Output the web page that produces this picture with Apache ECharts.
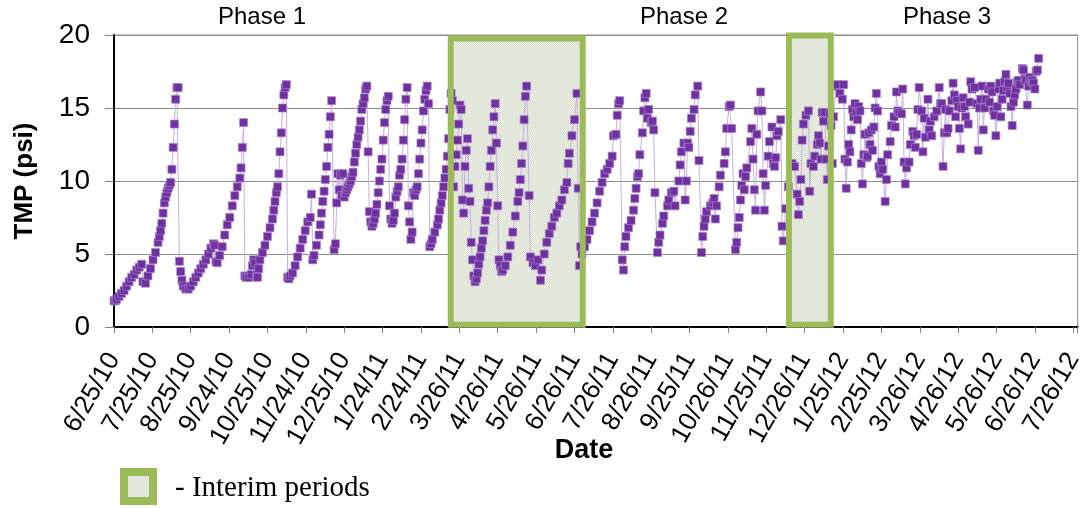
<!DOCTYPE html>
<html>
<head>
<meta charset="utf-8">
<script src="https://cdn.jsdelivr.net/npm/echarts@6/dist/echarts.min.js"></script>
<style>html,body{margin:0;padding:0;background:#fff}#c{width:1086px;height:508px}</style>
</head>
<body>
<div id="c"></div>
<script>
// Day offsets counted from 6/25/10, TMP in psi
const phase1 = [[0,1.8],[1,1.8],[2,1.9],[4,2.1],[6,2.3],[8,2.5],[10,2.8],[12,3.1],[14,3.4],[16,3.6],[18,3.9],[20,4.1],[22,4.3],[23,3.1],[25,3.0],[27,3.5],[29,4.0],[31,4.6],[33,5.1],[35,5.8],[36,6.2],[37,6.6],[38,7.1],[39,7.8],[40,8.5],[41,8.9],[42,9.2],[43,9.5],[44,9.7],[45,9.9],[46,10.8],[47,12.3],[48,13.9],[49,15.6],[50,16.4],[51,16.4],
[52,4.5],[53,3.8],[54,3.2],[55,2.8],[57,2.6],[59,2.6],[61,2.8],[63,3.1],[65,3.4],[67,3.7],[69,4.0],[71,4.3],[73,4.6],[75,5.0],[77,5.4],[79,5.7],[80,5.6],[81,4.5],[82,4.4],[84,4.9],[86,5.5],[88,6.3],[90,7.0],[92,7.5],[94,8.3],[96,9.0],[98,9.6],[100,10.2],[101,10.9],[102,12.3],[103,14.0],
[104,3.5],[105,3.4],[107,3.4],[109,3.6],[110,4.2],[111,4.6],[112,4.4],[113,3.5],[114,3.4],[115,4.0],[116,4.6],[118,5.1],[120,5.6],[122,6.2],[124,6.8],[126,7.4],[127,8.0],[128,8.6],[129,9.2],[130,9.6],[131,10.5],[132,12.0],[133,13.3],[134,15.0],[135,15.9],[136,16.4],[137,16.6],
[138,3.4],[139,3.3],[140,3.5],[142,3.7],[144,4.2],[146,4.8],[148,5.4],[150,6.0],[152,6.6],[154,7.2],[156,7.5],[157,9.1],[158,4.6],[159,4.9],[161,5.6],[163,6.3],[164,7.0],[165,7.8],[166,8.6],[167,9.3],[168,10.1],[169,11.0],[170,12.3],[171,13.2],[172,14.4],[173,15.5],
[175,5.3],[176,5.7],[177,8.5],[178,10.5],[179,9.4],[180,10.4],[181,9.0],[182,10.5],[183,8.9],[184,9.2],[185,9.4],[186,9.6],[187,9.8],[188,10.0],[189,10.3],[190,10.6],[191,11.3],[192,11.9],[193,12.5],[194,13.0],[195,13.5],[196,14.1],[197,14.9],[198,15.3],[199,15.7],[200,16.3],[201,16.5],[202,12.0],
[203,7.9],[204,7.2],[205,6.9],[206,7.1],[207,7.4],[208,7.8],[209,8.4],[210,9.2],[211,10.0],[212,10.8],[213,11.5],[214,12.8],[215,14.0],[216,14.9],[217,15.5],[218,15.8],
[219,8.3],[220,7.4],[221,7.1],[222,7.3],[223,7.8],[224,8.9],[225,9.3],[226,9.6],[227,10.4],[228,10.8],[229,11.5],[230,12.8],[231,14.2],[232,15.6],[233,16.4],
[234,8.3],[235,7.2],[236,6.0],[237,6.5],[238,9.2],[239,9.0],[240,9.4],[241,9.6],[242,10.5],[243,11.5],[244,12.6],[245,13.5],[246,14.8],[247,15.6],[248,16.2],[249,16.5],[250,15.3],
[251,5.5],[252,5.7],[253,6.0],[255,6.5],[257,7.0],[258,7.4],[259,8.0],[260,8.5],[261,9.0],[262,9.6],[263,10.2],[264,10.8],[265,11.7],[266,12.9],[267,14.9]];

const interim1 = [[268,16.0],[269,15.5],[270,9.6],[271,11.0],[272,11.8],[273,12.8],[274,13.9],[275,15.2],[276,14.9],[277,8.7],[278,7.8],[279,11.0],[280,12.1],[281,12.9],[282,9.5],[283,8.6],[284,5.8],[285,4.6],[286,3.5],[287,3.1],[288,3.3],[289,3.7],[290,4.3],[291,4.8],[292,5.4],[293,5.9],[294,6.6],[295,7.3],[296,8.0],[297,8.5],[298,9.6],[299,11.0],[300,12.1],[301,13.5],[302,14.4],[303,15.3],[304,12.6],[305,8.3],[306,4.6],[307,4.2],[308,3.8],[309,3.9],[311,4.2],[313,4.8],[315,5.6],[317,6.5],[319,7.6],[321,8.6],[322,9.2],[323,10.1],[324,11.2],[325,12.4],[326,14.2],[327,15.8],[328,16.5],[330,9.0],[331,4.8],[333,4.4],[335,4.2],[337,4.6],[339,3.2],[340,3.9],[342,5.0],[344,5.8],[346,6.4],[348,6.9],[350,7.5],[352,7.8],[354,8.3],[356,8.7],[358,9.4],[360,9.9],[361,11.2],[362,11.9],[364,13.1],[366,14.2],[368,16.0],[369,9.5],[370,4.2],[371,5.5]];

const phase2 = [[372,5.0],[374,5.5],[376,6.0],[378,6.6],[380,7.2],[382,7.8],[384,8.5],[386,9.3],[388,9.9],[390,10.5],[392,10.8],[394,11.2],[396,11.7],[397,13.1],[399,13.2],[400,14.5],[401,15.3],[402,15.5],[404,4.6],[405,3.9],[406,5.5],[407,6.2],[409,6.8],[411,7.3],[413,8.0],[414,8.8],[415,9.5],[416,10.3],[417,10.5],[418,11.8],[420,13.3],[421,14.8],[422,15.7],[423,16.0],[424,14.3],[425,14.9],[427,14.0],[428,14.1],[429,13.5],[430,9.2],[432,5.1],[433,5.8],[434,6.3],[436,7.1],[437,7.6],[440,8.3],[441,8.7],[443,9.2],[445,9.3],[446,8.3],[449,10.0],[450,11.1],[451,12.0],[453,12.6],[454,8.7],[455,10.0],[456,12.6],[457,12.3],[458,13.4],[459,14.3],[461,14.9],[462,15.9],[464,16.5],[465,11.4],[467,5.1],[468,6.2],[469,6.9],[470,7.4],[471,7.9],[474,8.3],[476,8.5],[477,8.8],[478,7.4],[479,8.3],[481,9.6],[482,10.4],[485,11.2],[486,12.0],[487,13.6],[489,15.1],[490,15.2],[491,13.6],[494,5.3],[495,5.8],[496,6.8],[497,7.5],[498,8.7],[499,9.7],[500,10.5],[501,9.4],[502,10.3],[503,10.9],[506,12.7],[507,13.6],[508,11.5],[509,9.4],[510,8.0],[511,13.2],[512,14.8],[514,16.1],[515,14.8],[516,10.5],[517,8.0],[518,9.7],[520,11.7],[521,12.7],[523,13.7],[524,11.2],[525,11.0],[526,11.6],[527,13.1],[528,13.4],[530,14.2],[531,6.9],[532,5.9],[534,8.1],[536,9.6]];

const interim2 = [[539,11.2],[541,11.0],[543,9.1],[544,7.7],[545,8.6],[546,10.1],[547,12.8],[548,13.9],[550,14.5],[552,14.8],[553,9.3],[554,11.2],[556,11.0],[557,11.7],[559,12.5],[560,13.1],[561,12.6],[562,11.5],[563,14.7],[564,14.1],[565,14.7],[566,11.5],[567,10.1],[568,12.4],[569,14.6],[570,13.8]];

const phase3 = [[571,11.2],[572,14.4],[574,16.5],[575,16.6],[577,16.0],[579,15.6],[580,16.6],[581,11.5],[582,9.5],[583,11.3],[584,12.5],[585,12.0],[586,13.5],[587,14.9],[588,14.4],[589,15.3],[590,14.7],[591,14.2],[592,15.1],[593,14.8],[594,11.2],[595,9.8],[596,11.8],[597,13.2],[598,11.6],[599,11.7],[600,13.3],[601,12.5],[602,13.5],[603,12.1],[604,13.7],[605,15.0],[606,16.0],[607,14.8],[608,11.0],[609,10.5],[610,11.3],[611,10.8],[613,8.6],[614,10.1],[615,11.8],[617,12.7],[618,13.8],[620,14.4],[621,13.7],[622,16.1],[623,14.8],[624,14.7],[626,14.6],[627,16.3],[628,11.3],[629,9.8],[630,10.9],[632,11.3],[633,12.5],[635,13.4],[636,13.1],[637,12.3],[638,13.2],[639,14.9],[640,16.4],[642,14.8],[643,12.0],[644,14.3],[645,13.0],[647,15.6],[648,13.5],[649,14.1],[650,13.1],[652,14.4],[654,14.8],[656,16.4],[657,15.3],[658,15.3],[659,11.0],[660,13.3],[661,14.9],[662,13.3],[663,13.6],[664,14.8],[666,15.5],[667,16.7],[668,15.9],[669,14.4],[670,15.5],[671,15.1],[672,13.6],[673,12.2],[674,15.0],[675,15.7],[676,15.1],[677,14.4],[679,13.9],[680,15.4],[681,16.8],[682,16.3],[684,16.4],[686,15.3],[687,12.1],[688,15.0],[689,15.6],[690,16.5],[691,13.5],[692,15.0],[693,15.6],[695,16.3],[696,15.4],[697,16.5],[698,16.1],[699,14.8],[700,14.5],[701,13.1],[702,15.1],[703,16.3],[704,16.7],[705,14.4],[706,15.6],[707,16.2],[708,16.8],[709,17.3],[710,16.4],[711,16.7],[712,16.0],[713,15.1],[714,13.8],[715,15.4],[716,15.9],[717,16.3],[718,16.8],[719,16.9],[720,16.6],[722,17.7],[723,17.6],[724,17.0],[725,16.9],[726,15.2],[727,16.5],[728,17.1],[729,16.8],[730,16.9],[731,16.7],[732,16.3],[733,17.5],[734,17.6],[735,18.4]];

// interim periods: [startDay, endDay, bottom, top]
const interimPeriods = [[267.7, 372.6, 0.16, 19.76], [536.5, 569.8, 0.16, 19.97]];
const phaseLabels = ['Phase 1', 'Phase 2', 'Phase 3'];
const startDate = Date.UTC(2010, 5, 25);
const tickDays = 30.5;
const yTicks = [0, 5, 10, 15, 20];

const allData = phase1.concat(interim1, phase2, interim2, phase3);

function fmtDate(v) {
  const r = v / tickDays;
  if (Math.abs(r - Math.round(r)) > 1e-6) return '';
  const d = new Date(startDate + Math.floor(v + 1e-9) * 86400000);
  return (d.getUTCMonth() + 1) + '/' + d.getUTCDate() + '/' + String(d.getUTCFullYear()).slice(2);
}

// fine dotted texture for the interim boxes
function makePattern() {
  const cv = document.createElement('canvas');
  cv.width = 2; cv.height = 2;
  const ctx = cv.getContext('2d');
  ctx.fillStyle = '#f5f6f1'; ctx.fillRect(0, 0, 2, 2);
  ctx.fillStyle = '#d2d9c6'; ctx.fillRect(0, 0, 1, 1); ctx.fillRect(1, 1, 1, 1);
  return { image: cv, repeat: 'repeat' };
}
const pattern = makePattern();

const green = '#9BBB59';
const areaData = () => interimPeriods.map(p => [
  { xAxis: p[0], yAxis: p[2] }, { xAxis: p[1], yAxis: p[3] }
]);

const chart = echarts.init(document.getElementById('c'), null, { renderer: 'canvas' });
chart.setOption({
  animation: false,
  backgroundColor: '#fff',
  grid: { left: 114, right: 4, top: 35, bottom: 181, show: true, borderColor: '#8c8c8c', borderWidth: 1, containLabel: false },
  xAxis: {
    type: 'value', min: 0, max: 766, interval: tickDays,
    axisLine: { show: true, lineStyle: { color: '#000', width: 2 } },
    axisTick: { show: true, length: 6, lineStyle: { color: '#808080', width: 1 } },
    axisLabel: { rotate: 60, margin: 28, fontSize: 26, color: '#000', fontFamily: 'Liberation Sans', formatter: fmtDate, showMaxLabel: true, showMinLabel: true },
    splitLine: { show: false }
  },
  yAxis: {
    type: 'value', min: yTicks[0], max: yTicks[yTicks.length - 1], interval: 5,
    name: 'TMP (psi)', nameLocation: 'middle', nameGap: 76,
    nameTextStyle: { fontSize: 26, fontWeight: 'bold', color: '#000', fontFamily: 'Liberation Sans' },
    axisLine: { show: true, lineStyle: { color: '#000', width: 2 } },
    axisTick: { show: true, length: 9, lineStyle: { color: '#808080', width: 1 } },
    axisLabel: { fontSize: 28, margin: 24, color: '#000', fontFamily: 'Liberation Sans' },
    splitLine: { show: true, lineStyle: { color: '#8c8c8c', width: 1 } }
  },
  series: [
    {
      type: 'line', data: allData, z: 3,
      symbol: 'rect', symbolSize: 8,
      itemStyle: { color: '#7030A0', borderColor: '#a585cc', borderWidth: 0.7 },
      lineStyle: { color: '#c7afdf', width: 1 },
      markArea: {
        silent: true, z: 1,
        itemStyle: { color: pattern, borderWidth: 0 },
        data: areaData()
      }
    },
    {
      type: 'line', data: [], z: 10,
      markArea: {
        silent: true, z: 10,
        itemStyle: { color: 'rgba(0,0,0,0)', borderColor: green, borderWidth: 6 },
        data: areaData()
      }
    }
  ],
  graphic: [
    { type: 'text', x: 262, y: 17, style: { text: phaseLabels[0], font: '24px "Liberation Sans"', fill: '#000', textAlign: 'center', textVerticalAlign: 'middle' } },
    { type: 'text', x: 684, y: 17, style: { text: phaseLabels[1], font: '24px "Liberation Sans"', fill: '#000', textAlign: 'center', textVerticalAlign: 'middle' } },
    { type: 'text', x: 947, y: 17, style: { text: phaseLabels[2], font: '24px "Liberation Sans"', fill: '#000', textAlign: 'center', textVerticalAlign: 'middle' } },
    { type: 'text', x: 584, y: 451, style: { text: 'Date', font: 'bold 27px "Liberation Sans"', fill: '#000', textAlign: 'center', textVerticalAlign: 'middle' } },
    { type: 'rect', shape: { x: 124, y: 472, width: 29, height: 29 }, style: { fill: pattern, stroke: green, lineWidth: 8 } },
    { type: 'text', x: 175, y: 488, style: { text: '- Interim periods', font: '29px "Liberation Serif"', fill: '#000', textVerticalAlign: 'middle' } }
  ]
});
</script>
</body>
</html>
